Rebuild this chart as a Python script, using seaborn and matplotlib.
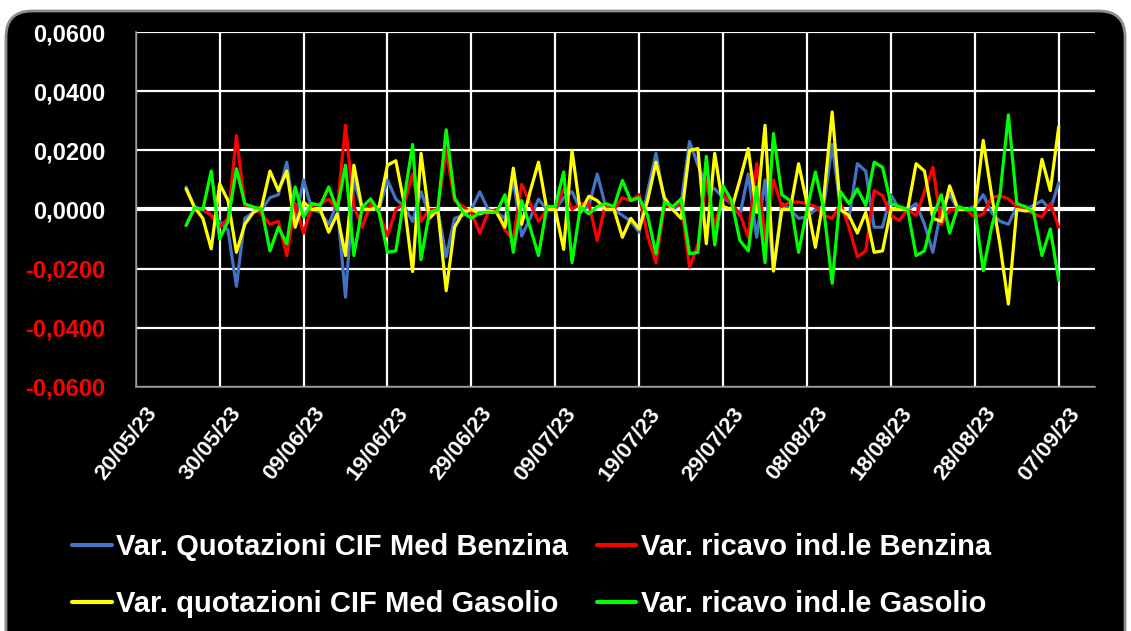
import numpy as np
import pandas as pd
import matplotlib
matplotlib.use("Agg")
import matplotlib.pyplot as plt
import matplotlib.dates as mdates
from matplotlib.patches import FancyBboxPatch
from matplotlib.transforms import IdentityTransform, ScaledTranslation
from matplotlib.ticker import FuncFormatter, MultipleLocator
import seaborn as sns

# daily values, 26/05/23 -> 07/09/23
start = "2023-05-26"
n_days = 105

benzina_quot = [0.0076, 0.0008, 0.000, -0.002, -0.004, -0.007, -0.026, -0.003, -0.001, 0.000,
                0.004, 0.005, 0.016, -0.004, 0.010, 0.000, -0.001, -0.005, 0.002, -0.0297,
                0.010, 0.000, 0.001, 0.000, 0.010, 0.0035, 0.001, -0.004, 0.006, -0.002,
                0.000, -0.016, -0.003, -0.002, 0.000, 0.006, 0.000, -0.001, -0.003, 0.010,
                -0.009, -0.003, 0.0035, 0.000, 0.000, 0.004, 0.006, 0.000, 0.001, 0.012,
                0.001, 0.000, -0.002, -0.004, -0.0077, 0.006, 0.019, 0.003, 0.000, 0.002,
                0.023, 0.015, 0.008, 0.007, 0.004, 0.002, -0.002, 0.012, -0.0094, 0.010,
                -0.021, 0.002, 0.000, -0.003, -0.0025, 0.000, 0.001, 0.022, 0.000, -0.003,
                0.0155, 0.013, -0.006, -0.006, 0.005, 0.000, 0.000, 0.002, -0.005, -0.0145,
                0.000, 0.005, 0.000, 0.000, 0.001, 0.005, -0.001, -0.004, -0.005, 0.001,
                0.000, 0.0014, 0.003, 0.000, 0.009]

benzina_ricavo = [-0.0054, 0.000, 0.000, -0.002, -0.006, -0.003, 0.025, 0.0014, 0.001, -0.0015,
                  -0.005, -0.004, -0.0156, 0.002, -0.008, 0.001, 0.002, 0.0035, 0.000, 0.0285,
                  0.001, -0.006, 0.002, -0.001, -0.009, 0.000, 0.002, 0.012, -0.004, 0.000,
                  0.000, 0.020, 0.003, 0.001, -0.001, -0.008, -0.001, 0.000, -0.007, -0.010,
                  0.0085, 0.002, -0.004, 0.000, 0.000, 0.007, 0.000, 0.002, 0.002, -0.0105,
                  0.002, 0.000, 0.004, 0.003, 0.005, -0.009, -0.018, 0.001, 0.001, 0.002,
                  -0.0195, -0.012, 0.010, -0.006, 0.005, 0.002, -0.0015, -0.0094, 0.0155, -0.010,
                  0.010, 0.001, 0.0025, 0.0025, 0.002, 0.001, -0.002, -0.003, 0.002, -0.006,
                  -0.016, -0.014, 0.0064, 0.0047, -0.002, -0.0037, 0.000, -0.002, 0.006, 0.0143,
                  -0.005, 0.000, 0.000, 0.000, -0.0026, -0.0015, 0.004, 0.0047, 0.0036, 0.001,
                  0.000, -0.0015, -0.0026, 0.002, -0.006]

gasolio_quot = [0.007, 0.0008, -0.003, -0.0133, 0.0087, 0.003, -0.0145, -0.005, -0.001, 0.0008,
                0.013, 0.0064, 0.013, -0.006, 0.0025, 0.000, 0.000, -0.0077, -0.0015, -0.0156,
                0.015, 0.000, 0.000, 0.001, 0.015, 0.0165, 0.002, -0.021, 0.019, -0.003,
                0.000, -0.0275, -0.006, -0.001, 0.000, -0.0015, -0.0005, -0.001, -0.006, 0.014,
                -0.005, 0.006, 0.016, 0.000, 0.000, -0.0135, 0.020, -0.001, 0.0045, 0.003,
                0.000, 0.000, -0.0094, -0.003, -0.0066, 0.003, 0.016, 0.004, 0.000, -0.003,
                0.020, 0.0206, -0.0116, 0.019, 0.001, 0.000, 0.010, 0.0206, -0.001, 0.0285,
                -0.0207, 0.000, 0.000, 0.0155, 0.002, -0.0128, 0.004, 0.033, 0.000, -0.002,
                -0.008, -0.001, -0.0145, -0.014, 0.000, 0.000, 0.000, 0.0155, 0.013, -0.003,
                -0.004, 0.008, 0.000, 0.000, 0.000, 0.0234, 0.005, -0.012, -0.032, 0.000,
                -0.0005, 0.000, 0.017, 0.0064, 0.028]

gasolio_ricavo = [-0.0054, 0.0006, 0.000, 0.013, -0.010, -0.004, 0.0138, 0.002, 0.0008, 0.0002,
                  -0.014, -0.006, -0.0116, 0.0076, -0.0026, 0.002, 0.0014, 0.0076, 0.000, 0.015,
                  -0.0156, 0.0008, 0.0036, -0.001, -0.0145, -0.014, 0.004, 0.022, -0.017, -0.001,
                  0.000, 0.027, 0.004, -0.001, -0.003, -0.001, -0.001, -0.001, 0.005, -0.0145,
                  0.003, -0.006, -0.0156, 0.001, 0.001, 0.0127, -0.018, 0.001, -0.0015, 0.001,
                  0.002, 0.001, 0.0098, 0.003, 0.004, -0.002, -0.015, 0.0025, 0.001, 0.0036,
                  -0.015, -0.0145, 0.018, -0.012, 0.008, 0.003, -0.0105, -0.014, 0.0076, -0.018,
                  0.0257, 0.005, 0.003, -0.0145, 0.000, 0.0127, 0.000, -0.025, 0.006, 0.002,
                  0.007, 0.0014, 0.016, 0.0143, 0.002, 0.001, 0.000, -0.0156, -0.014, -0.0026,
                  0.005, -0.008, 0.001, 0.000, 0.000, -0.0207, -0.006, 0.005, 0.032, 0.002,
                  0.001, -0.001, -0.0156, -0.0066, -0.024]

labels = ["Var. Quotazioni CIF Med Benzina", "Var. ricavo ind.le Benzina",
          "Var. quotazioni CIF Med Gasolio", "Var. ricavo ind.le Gasolio"]
colors = ["#4472C4", "#FF0000", "#FFFF00", "#00FF00"]

dates = pd.date_range(start, periods=n_days, freq="D")
df = pd.concat([pd.DataFrame({"data": dates, "valore": v, "serie": lab})
                for v, lab in zip([benzina_quot, benzina_ricavo, gasolio_quot, gasolio_ricavo], labels)])

sns.set_theme(style="dark")
plt.rcParams["font.family"] = ["Liberation Sans", "DejaVu Sans"]

fig = plt.figure(figsize=(11.31, 6.31), dpi=100, facecolor="white")
# black rounded frame
bg = FancyBboxPatch((6, -40), 1119, 660, boxstyle="round,pad=0,rounding_size=26",
                    transform=IdentityTransform(), facecolor="black", edgecolor="#8c8c8c",
                    lw=2, zorder=-5)
fig.patches.append(bg)

ax = fig.add_axes([0.120, 0.387, 0.848, 0.562])
ax.set_facecolor("black")

sns.lineplot(data=df, x="data", y="valore", hue="serie", hue_order=labels,
             palette=colors, linewidth=2.3, ax=ax, legend=False)

ax.set_ylim(-0.06, 0.06)
ax.yaxis.set_major_locator(MultipleLocator(0.02))
ax.yaxis.set_major_formatter(FuncFormatter(lambda v, p: f"{v:.4f}".replace(".", ",")))
ax.set_xlim(pd.Timestamp("2023-05-20"), pd.Timestamp("2023-05-20") + pd.Timedelta(days=114.3))
xticks = pd.date_range("2023-05-20", periods=12, freq="10D")
ax.set_xticks(xticks)
ax.xaxis.set_major_formatter(mdates.DateFormatter("%d/%m/%y"))

ax.grid(True, color="white", linewidth=1.6)
ax.axhline(0, color="white", linewidth=3, zorder=1)
ax.set_axisbelow(True)
ax.set_xlabel("")
ax.set_ylabel("")
for s in ["top", "right"]:
    ax.spines[s].set_visible(False)
for s in ["left", "bottom"]:
    ax.spines[s].set_visible(True)
    ax.spines[s].set_color("#8c8c8c")
    ax.spines[s].set_linewidth(1.2)

ax.tick_params(axis="both", which="major", length=6, color="#8c8c8c", width=1.2)
ax.tick_params(axis="y", pad=16, labelsize=17)
ax.tick_params(axis="x", pad=6, labelsize=16)

for lbl, v in zip(ax.get_yticklabels(), ax.get_yticks()):
    lbl.set_fontweight("bold")
    lbl.set_color("#FF0000" if v < -1e-9 else "white")

shift = ScaledTranslation(9 / 100, 0, fig.dpi_scale_trans)
for lbl in ax.get_xticklabels():
    lbl.set_rotation(52)
    lbl.set_ha("right")
    lbl.set_rotation_mode("anchor")
    lbl.set_fontweight("bold")
    lbl.set_color("white")
    lbl.set_transform(lbl.get_transform() + shift)

handles = [plt.Line2D([], [], color=c, lw=3) for c in colors]
order = [0, 2, 1, 3]
leg = fig.legend([handles[i] for i in order], [labels[i] for i in order],
                 ncol=2, loc="center", bbox_to_anchor=(0.470, 0.088),
                 frameon=False, handlelength=1.35, handletextpad=0.15,
                 columnspacing=1.0, labelspacing=1.0,
                 prop={"size": 21, "weight": "bold"})
for t in leg.get_texts():
    t.set_color("white")

fig.savefig("out.png", dpi=100, facecolor="white")
